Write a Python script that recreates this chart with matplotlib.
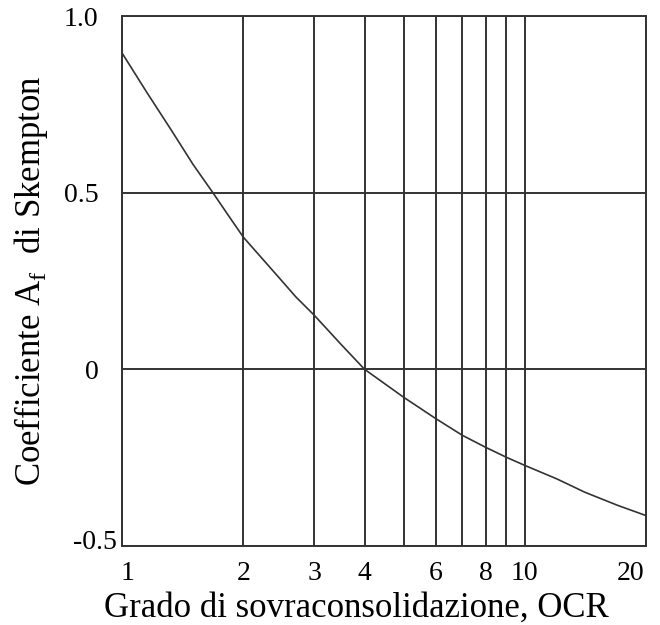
import numpy as np
import matplotlib
matplotlib.use("Agg")
import matplotlib.pyplot as plt
import matplotlib.transforms as mtransforms

plt.rcParams['font.family'] = ['Liberation Serif', 'DejaVu Serif']
plt.rcParams['mathtext.fontset'] = 'custom'
plt.rcParams['mathtext.rm'] = 'Liberation Serif'

# valori
ocr = [1, 1.15, 1.33, 1.5, 1.68, 1.85, 2, 2.45, 2.7, 3, 3.5, 4, 5, 6, 7, 8, 9,
       10, 12, 14.1, 17, 20]
af = [0.895, 0.785, 0.674, 0.58, 0.50, 0.43, 0.374, 0.26, 0.205, 0.153, 0.07,
      0.0, -0.079, -0.139, -0.187, -0.221, -0.249, -0.272, -0.31, -0.348,
      -0.385, -0.414]

xticks = [1, 2, 3, 4, 6, 8, 10, 20]
xminor = [5, 7, 9]
yticks = [-0.5, 0, 0.5, 1.0]
ylabels = ["-0.5", "0", "0.5", "1.0"]

col = "#333333"

fig = plt.figure(figsize=(6.6, 6.25), dpi=100)
ax = fig.add_axes([0.185, 0.1264, 0.794, 0.8480])

ax.plot(ocr, af, color=col, linewidth=1.2)

ax.set_xscale("log")
ax.set_xlim(1, 20)
ax.set_ylim(-0.5, 1.0)

ax.set_xticks(xticks)
ax.set_xticklabels([str(v) for v in xticks])
ax.set_xticks(xminor, minor=True)
ax.set_xticklabels([], minor=True)
ax.set_yticks(yticks)
ax.set_yticklabels(ylabels)

ax.grid(True, which="both", axis="x", color=col, linewidth=1.4)
ax.grid(True, which="major", axis="y", color=col, linewidth=1.4)
ax.tick_params(which="both", length=0, labelsize=20, colors="black")
ax.tick_params(axis="x", pad=11)
ax.tick_params(axis="y", pad=17)

for s in ax.spines.values():
    s.set_color(col)
    s.set_linewidth(1.4)


def sposta(lab, dx, dy):
    lab.set_transform(lab.get_transform() +
                      mtransforms.ScaledTranslation(dx / 72, dy / 72, fig.dpi_scale_trans))


# etichette spostate come nell'originale
sposta(ax.get_yticklabels()[0], 13, 5)
sposta(ax.get_xticklabels()[0], 4, 0)
sposta(ax.get_xticklabels()[-1], -11, 0)

ax.set_xlabel("Grado di sovraconsolidazione, OCR", fontsize=25)
ax.xaxis.set_label_coords(0.447, -0.087)
ax.set_ylabel(r"Coefficiente A$_{\mathrm{f}}$  di Skempton", fontsize=25, labelpad=10)

fig.savefig("out.png", dpi=100)
